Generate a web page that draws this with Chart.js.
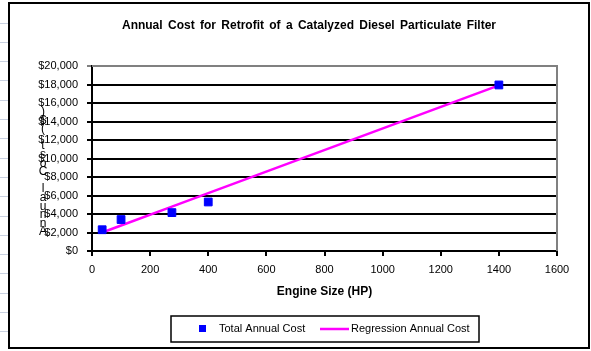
<!DOCTYPE html>
<html>
<head>
<meta charset="utf-8">
<script src="https://cdn.jsdelivr.net/npm/chart.js@4.4.1/dist/chart.umd.min.js"></script>
<style>
  html, body { margin: 0; padding: 0; background: #fff; }
  canvas { display: block; }
</style>
</head>
<body>
<canvas id="costChart" width="591" height="351"></canvas>
<script>
const engineHp = [35, 100, 275, 400, 1400];
const totalCost = [2300, 3400, 4150, 5300, 17950];
const regressionCost = [2000, 2760, 4800, 6250, 17900];

const chartTitle = 'Annual Cost for Retrofit of a Catalyzed Diesel Particulate Filter';
const xTitle = 'Engine Size (HP)';
const yTitle = 'Annual Cost ($)';
const seriesNames = ['Total Annual Cost', 'Regression Annual Cost'];

const FONT = '"Liberation Sans", Arial, sans-serif';

// frame, title, stacked y title and the boxed legend, drawn like the Excel chart
const excelFramePlugin = {
  id: 'excelFrame',
  beforeDraw(chart) {
    const { ctx } = chart;
    ctx.save();
    // faint spreadsheet rows showing left of the chart object
    ctx.strokeStyle = '#c8d0e0';
    ctx.lineWidth = 1;
    for (let y = 22.5; y < 351; y += 19.3) {
      ctx.beginPath();
      ctx.moveTo(0, Math.round(y) + 0.5);
      ctx.lineTo(8, Math.round(y) + 0.5);
      ctx.stroke();
    }
    ctx.strokeStyle = '#000';
    ctx.lineWidth = 2;
    ctx.strokeRect(9, 3, 580, 345);
    ctx.restore();
  },
  beforeDatasetsDraw(chart) {
    const { ctx, chartArea: { left, top, right, bottom } } = chart;
    ctx.save();
    ctx.strokeStyle = '#808080';
    ctx.lineWidth = 2;
    ctx.beginPath();
    ctx.moveTo(left, top);
    ctx.lineTo(right, top);
    ctx.lineTo(right, bottom);
    ctx.stroke();
    ctx.restore();
  },
  afterDraw(chart) {
    const { ctx } = chart;
    ctx.save();
    ctx.fillStyle = '#000';
    ctx.textBaseline = 'middle';

    ctx.font = 'bold 12px ' + FONT;
    ctx.textAlign = 'center';
    ctx.wordSpacing = '2px';
    ctx.fillText(chartTitle, 309, 26);
    ctx.wordSpacing = '0px';

    // y title: letters stacked bottom to top
    ctx.font = '12px ' + FONT;
    const chars = yTitle.split('');
    chars.forEach((c, i) => {
      ctx.fillText(c, 43, 232 - i * 8.6);
    });

    // legend box
    ctx.lineWidth = 1.5;
    ctx.strokeStyle = '#000';
    ctx.strokeRect(171, 316, 308, 26);
    const ly = 329;
    const pointSet = chart.data.datasets[0];
    const lineSet = chart.data.datasets[1];
    ctx.fillStyle = pointSet.backgroundColor;
    ctx.fillRect(199, ly - 4, 7, 7);
    ctx.strokeStyle = lineSet.borderColor;
    ctx.lineWidth = 2.5;
    ctx.beginPath();
    ctx.moveTo(320, ly);
    ctx.lineTo(349, ly);
    ctx.stroke();
    ctx.fillStyle = '#000';
    ctx.textAlign = 'left';
    ctx.font = '11px ' + FONT;
    ctx.fillText(pointSet.label, 219, ly);
    ctx.fillText(lineSet.label, 351, ly);
    ctx.restore();
  }
};

new Chart(document.getElementById('costChart'), {
  type: 'scatter',
  plugins: [excelFramePlugin],
  data: {
    datasets: [
      {
        label: seriesNames[0],
        data: engineHp.map((x, i) => ({ x: x, y: totalCost[i] })),
        backgroundColor: '#0000ff',
        borderColor: '#0000ff',
        pointStyle: 'rect',
        pointRadius: 5.5,
        borderWidth: 1,
        order: 1
      },
      {
        label: seriesNames[1],
        data: engineHp.map((x, i) => ({ x: x, y: regressionCost[i] })),
        showLine: true,
        borderColor: '#ff00ff',
        backgroundColor: '#ff00ff',
        borderWidth: 2.5,
        pointRadius: 0,
        tension: 0,
        order: 2
      }
    ]
  },
  options: {
    responsive: false,
    animation: false,
    devicePixelRatio: 1,
    layout: {
      padding: { left: 0, top: 66, right: 34, bottom: 50 }
    },
    plugins: {
      legend: { display: false },
      title: { display: false },
      tooltip: { enabled: false }
    },
    scales: {
      x: {
        type: 'linear',
        min: 0,
        max: 1600,
        afterFit(scale) { scale.height = 50; },
        ticks: {
          stepSize: 200,
          padding: 7,
          color: '#000',
          font: { family: FONT, size: 11 },
          maxRotation: 0,
          callback: v => String(v)
        },
        grid: {
          drawOnChartArea: false,
          color: '#000',
          lineWidth: 2,
          tickLength: 5
        },
        border: { color: '#000', width: 2 },
        title: {
          display: true,
          text: xTitle,
          color: '#000',
          font: { family: FONT, size: 12, weight: 'bold' },
          padding: { top: 4, bottom: 2 }
        }
      },
      y: {
        type: 'linear',
        min: 0,
        max: 20000,
        afterFit(scale) { scale.width = 92; },
        ticks: {
          stepSize: 2000,
          padding: 9,
          color: '#000',
          font: { family: FONT, size: 11 },
          callback: v => '$' + v.toLocaleString('en-US')
        },
        grid: {
          color: c => (c.tick && c.tick.value === 20000 ? '#808080' : '#000'),
          lineWidth: 2,
          tickLength: 5
        },
        border: { color: '#000', width: 2 }
      }
    }
  }
});
</script>
</body>
</html>
